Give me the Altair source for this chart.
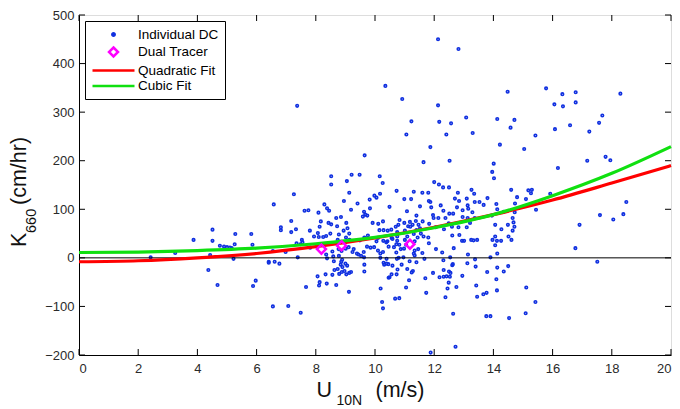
import altair as alt
import pandas as pd

# ---------------- data ----------------
dc_x = [12.13,12.82,10.35,10.92,12.13,11.23,12.17,12.57,11.06,12.41,13.08,13.30,11.87,9.65,11.64,12.52,
        14.48,14.13,14.71,14.58,14.22,15.42,15.04,15.78,16.06,16.33,16.35,16.78,16.78,16.08,16.59,17.24,
        17.68,17.57,18.29,17.17,17.79,17.95,16.18,14.01,13.96,14.02,9.05,9.21,9.48,10.16,10.26,10.73,
        11.6,11.8,12.0,12.16,12.3,12.5,12.8,12.7,13.1,13.26,13.35,13.8,14.6,14.8,15.1,15.18,15.3,15.27,
        15.92,7.37,7.26,8.52,8.52,9.82,
        6.58,7.17,6.82,6.82,7.17,5.28,5.82,8.17,7.81,
        3.87,4.51,4.51,4.76,4.9,5.0,5.1,5.16,5.26,5.86,4.43,5.22,4.37,4.68,5.88,5.97,3.25,2.42,6.41,6.41,
        6.61,6.77,6.55,7.07,7.49,7.67,6.98,6.55,
        8.06,8.13,8.11,8.37,8.33,8.69,8.56,8.63,8.74,8.79,8.88,8.90,9.0,8.97,9.06,9.13,9.03,9.19,9.12,8.86,
        9.64,9.64,10.31,10.39,10.49,10.19,10.24,10.27,8.38,8.56,8.87,8.77,9.01,9.28,9.44,9.62,10.18,
        8.95,9.41,9.98,10.05,10.17,10.49,10.99,11.22,11.52,7.62,7.75,8.09,8.29,8.38,8.45,8.69,9.63,9.67,
        9.74,9.59,9.83,9.19,8.85,8.43,8.52,8.72,8.13,9.03,7.33,9.92,10.11,10.27,10.15,10.29,10.43,10.83,
        10.99,11.12,11.18,11.27,10.79,10.7,11.38,11.47,11.61,7.8,8.07,7.94,8.1,8.25,8.35,8.49,8.78,8.94,
        9.07,9.13,9.02,9.14,8.74,7.53,7.55,7.48,7.35,9.49,9.64,9.76,10.05,10.1,10.28,10.42,10.59,10.75,
        10.72,10.82,11.01,11.09,11.31,11.44,11.55,11.64,9.11,9.24,9.39,9.53,9.73,9.85,9.97,10.1,10.18,
        10.27,10.46,10.64,10.72,10.87,10.98,11.31,11.46,11.6,8.35,8.59,8.78,8.89,8.61,8.84,7.39,9.63,
        10.29,10.45,10.74,10.96,11.17,11.4,11.31,9.13,
        11.82,11.87,11.08,11.4,11.9,11.96,11.98,12.14,12.22,12.31,12.38,12.51,12.64,12.77,12.84,12.96,
        13.13,13.15,13.29,13.37,13.37,13.53,13.67,14.1,14.13,14.35,14.73,14.72,15.44,14.65,14.68,14.71,
        10.55,10.75,11.01,11.19,11.4,11.52,11.83,12.05,12.33,12.49,12.82,13.1,12.96,13.13,13.21,13.95,
        14.06,14.27,14.49,14.65,14.51,14.61,14.26,14.12,13.97,14.06,12.94,13.01,13.25,13.33,13.45,12.6,
        12.61,12.85,11.8,11.34,10.75,10.56,10.38,
        11.82,12.06,12.27,12.66,14.06,13.14,14.13,13.9,12.54,12.31,11.67,11.34,11.34,11.05,10.8,10.39,
        10.59,10.9,11.09,11.28,11.24,10.76,10.56,10.46,10.73,11.15,11.05,10.68,10.82,11.73,11.7,11.96,
        12.18,12.32,12.42,12.53,12.55,12.49,12.45,12.75,12.38,12.64,12.72,11.88,12.61,12.63,12.32,12.5,
        12.95,13.12,13.38,13.4,13.79,13.42,13.45,13.66,13.77,14.1,14.12,14.13,14.35,14.5,13.76,13.9,
        14.53,15.09,15.11,15.42,
        16.77,16.91,17.51,17.6,18.05,18.39,18.49]
dc_y = [450,430,354,327,314,281,280,277,254,254,289,257,228,211,197,200,
        342,286,284,268,233,252,224,349,316,337,312,341,320,265,273,260,
        293,278,338,200,208,201,185,194,177,164,158,171,171,168,154,138,
        134,134,156,151,145,145,134,122,122,140,132,123,140,125,121,139,140,133,
        132,313,131,168,151,120,
        110,76,63,57,53,49,49,75,21,
        37,58,35,25,23,22,21,20,28,27,6,-2,-25,-56,-58,-47,10,1,-10,-8,
        -8,-12,-100,-99,-113,-60,12,14,
        -38,-50,-57,-53,-34,-56,-35,-25,-23,-33,-29,-19,-12,-27,-16,-31,-34,-29,-70,-8,
        -14,-28,-14,-12,-40,-63,-91,-104,-1,13,14,18,19,18,7,12,0,
        117,112,128,124,132,105,121,121,106,97,98,93,110,102,97,82,95,89,
        87,85,102,99,84,72,69,65,64,72,59,72,70,75,57,57,56,78,
        72,65,74,68,68,64,76,68,75,56,51,44,43,43,45,50,48,56,
        61,50,42,37,37,37,32,28,30,36,42,46,34,41,35,34,39,35,
        28,27,37,44,49,42,50,44,22,12,9,4,23,21,22,15,9,
        12,23,22,11,18,19,9,18,10,7,3,4,-4,-7,-14,1,1,
        -10,-13,-2,1,-7,-9,136,134,
        117,115,96,87,104,88,82,82,108,97,82,91,91,104,117,98,
        108,101,94,115,82,115,109,111,100,95,112,94,99,82,73,64,
        58,53,56,64,57,61,70,63,59,71,63,63,84,82,72,87,
        68,59,68,56,44,37,35,35,37,44,35,35,37,36,37,64,
        46,47,42,34,44,41,32,
        30,18,11,20,26,7,9,1,1,-5,-2,15,5,27,0,-2,
        -16,-14,-23,-27,-30,-24,-34,-41,-34,-46,-61,-84,-83,-72,-42,-31,
        -40,-39,-38,-39,-31,-51,-63,-60,-81,-115,-183,-195,-15,-13,-25,-28,
        -37,-11,-3,-18,-29,-57,-80,-75,-72,-44,-67,-20,-28,-17,-120,-120,
        -124,-114,-61,-91,
        20,68,-8,88,79,90,115]

dual_x = [8.19, 8.87, 11.18]
dual_y = [18, 25, 28]

fit_x = [0, 2, 4, 6, 8, 10, 12, 14, 16, 18, 20]
quad_y = [-8, -6, 0, 9, 23, 41, 63, 89, 119, 154, 190]
cubic_y = [11, 12, 15, 20, 29, 42, 62, 89, 128, 174, 229]

x_ticks = [0, 2, 4, 6, 8, 10, 12, 14, 16, 18, 20]
y_ticks = [-200, -100, 0, 100, 200, 300, 400, 500]

series_names = ["Individual DC", "Dual Tracer", "Quadratic Fit", "Cubic Fit"]
series_colors = ["#1030e0", "#ff00ff", "#ff0000", "#10e010"]

y_title = ["K", "660", "(cm/hr)"]
x_title = ["U", "10N", "(m/s)"]

# ---------------- styling ----------------
W, H = 592, 340
TOP = 7
FONT = "Liberation Sans"
DOT = "M-0.2,0A0.2,0.2,0,1,0,0.2,0A0.2,0.2,0,1,0,-0.2,0Z"
DIAMOND = "M0,-0.75L0.75,0L0,0.75L-0.75,0Z"
LINE = "M-3.5,0H3.5"
series_shapes = [DOT, DIAMOND, LINE, LINE]

dc_df = pd.DataFrame({"x": dc_x, "y": dc_y, "series": series_names[0]})
dual_df = pd.DataFrame({"x": dual_x, "y": dual_y, "series": series_names[1]})
quad_df = pd.DataFrame({"x": fit_x, "y": quad_y, "series": series_names[2]})
cubic_df = pd.DataFrame({"x": fit_x, "y": cubic_y, "series": series_names[3]})

xs = alt.Scale(domain=[0, 20], nice=False, zero=False)
ys = alt.Scale(domain=[-200, 500], nice=False, zero=False)

x_axis = alt.Axis(values=x_ticks, title=None, grid=False, ticks=False, labelPadding=7,
                  domainColor="black", labelFontSize=13, labelFont=FONT, labelColor="#2a2a2a")
y_axis = alt.Axis(values=y_ticks, title=None, grid=False, ticks=False, labelPadding=5,
                  domainColor="black", labelFontSize=13, labelFont=FONT, labelColor="#2a2a2a")

leg = alt.Legend(title=None, orient="top-left", offset=6, padding=6, rowPadding=1.5,
                 symbolSize=144, symbolStrokeWidth=2.5, symbolOffset=15, labelOffset=17,
                 labelFont=FONT, labelFontSize=13.5, labelColor="black",
                 strokeColor="black", fillColor="white")

color = alt.Color("series:N", scale=alt.Scale(domain=series_names, range=series_colors), legend=leg)
shape = alt.Shape("series:N", scale=alt.Scale(domain=series_names, range=series_shapes), legend=leg)

X = alt.X("x:Q", scale=xs, axis=x_axis)
Y = alt.Y("y:Q", scale=ys, axis=y_axis)

dc = alt.Chart(dc_df).mark_point(filled=False, size=160, strokeWidth=1.6, opacity=1).encode(
    x=X, y=Y, color=color, shape=shape)
zero = alt.Chart(pd.DataFrame({"v": [0]})).mark_rule(color="black", strokeWidth=1).encode(
    y=alt.Y("v:Q", scale=ys, axis=y_axis))
quad = alt.Chart(quad_df).mark_line(strokeWidth=3.2, interpolate="monotone").encode(
    x=X, y=Y, color=color)
cubic = alt.Chart(cubic_df).mark_line(strokeWidth=3.2, interpolate="monotone").encode(
    x=X, y=Y, color=color)
dual = alt.Chart(dual_df).mark_point(filled=False, size=144, strokeWidth=2.5, opacity=1).encode(
    x=X, y=Y, color=color, shape=shape)

TL = 6
xt = pd.DataFrame({"t": x_ticks})
yt = pd.DataFrame({"t": y_ticks})
tick_b = alt.Chart(xt).mark_rule(color="black").encode(
    x=alt.X("t:Q", scale=xs, axis=x_axis), y=alt.value(H), y2=alt.value(H - TL))
tick_t = alt.Chart(xt).mark_rule(color="black").encode(
    x=alt.X("t:Q", scale=xs, axis=x_axis), y=alt.value(0), y2=alt.value(TL))
tick_l = alt.Chart(yt).mark_rule(color="black").encode(
    y=alt.Y("t:Q", scale=ys, axis=y_axis), x=alt.value(0), x2=alt.value(TL))
tick_r = alt.Chart(yt).mark_rule(color="black").encode(
    y=alt.Y("t:Q", scale=ys, axis=y_axis), x=alt.value(W), x2=alt.value(W - TL))

def txt(s, size, x, y, angle=0):
    return alt.Chart(pd.DataFrame({"s": [s]})).mark_text(
        font=FONT, fontSize=size, align="left", baseline="alphabetic", angle=angle, color="#111"
    ).encode(text="s:N", x=alt.value(x), y=alt.value(y))

# page coordinates -> chart coordinates: x - 78.7, y - (8 + TOP)
titles = [
    txt(y_title[0], 21.5, -53.5, 257 - 15 - 10, 270),
    txt(y_title[1], 14.5, -43.5, 233 - 15, 270),
    txt(y_title[2], 21.5, -53.5, 197 - 15 + 8, 270),
    txt(x_title[0], 21.5, 237.5, 396.5 - 15),
    txt(x_title[1], 14, 257.5, 405 - 15),
    txt(x_title[2], 21.5, 296.5, 396.5 - 15),
]

chart = alt.layer(dc, zero, quad, cubic, dual, tick_b, tick_t, tick_l, tick_r, *titles).properties(
    width=W, height=H,
    autosize=alt.AutoSizeParams(type="none"),
    padding={"left": 71, "top": TOP, "right": 1, "bottom": 409 - 8 - TOP - H},
).configure_view(stroke="black", strokeWidth=1).configure(background="white")

chart.save("out.html", embed_options={"renderer": "svg", "actions": False})
